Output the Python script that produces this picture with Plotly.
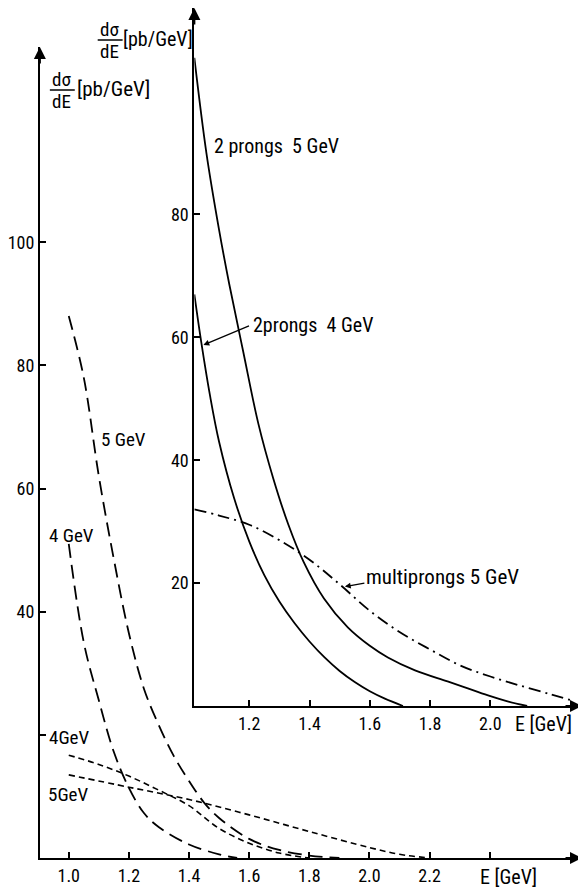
import plotly.graph_objects as go

# ---------------- data ----------------
# outer panel: long-dashed curves
outer_E_5long = [1.00, 1.05, 1.10, 1.15, 1.20, 1.25, 1.30, 1.35, 1.40, 1.45, 1.50, 1.60, 1.70, 1.80, 1.90]
outer_y_5long = [88, 78, 62, 48.5, 36.5, 27.5, 21.5, 16.5, 12.5, 9.0, 6.5, 3.1, 1.3, 0.4, 0]
outer_E_4long = [1.00, 1.05, 1.10, 1.15, 1.20, 1.25, 1.30, 1.40, 1.50, 1.56]
outer_y_4long = [51, 35, 25.6, 17.2, 11.4, 7.3, 5.0, 2.2, 0.6, 0]
# outer panel: short-dashed curves
outer_E_4short = [1.0, 1.1, 1.2, 1.3, 1.4, 1.5, 1.6, 1.7, 1.8]
outer_y_4short = [16.7, 15.2, 13.3, 11.0, 8.5, 4.8, 2.4, 0.8, 0]
outer_E_5short = [1.0, 1.2, 1.4, 1.6, 1.8, 2.0, 2.1, 2.2]
outer_y_5short = [13.5, 11.5, 9.5, 7.0, 4.3, 1.7, 0.6, 0]

# inset panel
inset_E_4 = [1.018, 1.04, 1.07, 1.10, 1.15, 1.20, 1.25, 1.30, 1.35, 1.40, 1.45, 1.50, 1.55, 1.60, 1.65, 1.71]
inset_y_4 = [67, 59.5, 50.5, 43, 33.8, 26.8, 21.3, 17.0, 13.5, 10.5, 7.9, 5.7, 3.9, 2.4, 1.2, 0]
inset_E_5 = [1.018, 1.058, 1.10, 1.134, 1.18, 1.23, 1.28, 1.33, 1.38, 1.448, 1.527, 1.60, 1.66, 1.75, 1.858, 1.93, 2.0, 2.06, 2.122]
inset_y_5 = [105.5, 90, 77.5, 68.6, 57.7, 46, 37, 29.5, 23.5, 17.5, 12.8, 9.8, 7.9, 5.8, 4.0, 2.8, 1.6, 0.7, 0]
inset_E_multi = [1.018, 1.1, 1.2, 1.3, 1.4, 1.5, 1.6, 1.7, 1.8, 1.9, 2.0, 2.1, 2.2, 2.264]
inset_y_multi = [32, 31, 29.5, 27, 23.8, 19.8, 15.5, 12, 9.2, 6.6, 4.8, 3.3, 1.9, 1.0]

# ticks
outer_xticks = [1.0, 1.2, 1.4, 1.6, 1.8, 2.0, 2.2, 2.4]
outer_xticktext = ["1.0", "1.2", "1.4", "1.6", "1.8", "2.0", "2.2", ""]
outer_yticks = [20, 40, 60, 80, 100]
outer_yticktext = ["", "40", "60", "80", "100"]
inset_xticks = [1.2, 1.4, 1.6, 1.8, 2.0]
inset_xticktext = ["1.2", "1.4", "1.6", "1.8", "2.0"]
inset_yticks = [20, 40, 60, 80]
inset_yticktext = ["20", "40", "60", "80"]

# ---------------- layout helpers ----------------
# the page body has an 8px margin; work in window pixels and convert
OFF = 8
W, H = 586 - OFF, 890 - OFF
FONT = "Liberation Sans Narrow, Arial Narrow, Roboto Condensed, Lato, sans-serif"


def px(x):
    return (x - OFF) / W


def py(y):
    return 1 - (y - OFF) / H


OUT_X = [0.904, 2.707]
OUT_Y = [0, 131.7]
IN_X = [1.018, 2.304]
IN_Y = [0, 113.6]

fig = go.Figure()

line_black = dict(color="black", width=1.8)

fig.add_trace(go.Scatter(x=outer_E_5long, y=outer_y_5long, mode="lines", line_shape="spline",
                         line=dict(color="black", width=1.8, dash="14px,7px"), xaxis="x", yaxis="y"))
fig.add_trace(go.Scatter(x=outer_E_4long, y=outer_y_4long, mode="lines", line_shape="spline",
                         line=dict(color="black", width=1.8, dash="14px,7px"), xaxis="x", yaxis="y"))
fig.add_trace(go.Scatter(x=outer_E_4short, y=outer_y_4short, mode="lines", line_shape="spline",
                         line=dict(color="black", width=1.6, dash="6px,4px"), xaxis="x", yaxis="y"))
fig.add_trace(go.Scatter(x=outer_E_5short, y=outer_y_5short, mode="lines", line_shape="spline",
                         line=dict(color="black", width=1.6, dash="6px,4px"), xaxis="x", yaxis="y"))

fig.add_trace(go.Scatter(x=inset_E_4, y=inset_y_4, mode="lines", line_shape="spline",
                         line=line_black, xaxis="x2", yaxis="y2"))
fig.add_trace(go.Scatter(x=inset_E_5, y=inset_y_5, mode="lines", line_shape="spline",
                         line=line_black, xaxis="x2", yaxis="y2"))
fig.add_trace(go.Scatter(x=inset_E_multi, y=inset_y_multi, mode="lines", line_shape="spline",
                         line=dict(color="black", width=1.8, dash="12px,5px,2px,5px"), xaxis="x2", yaxis="y2"))

axis_common = dict(showline=True, linecolor="black", linewidth=2, ticks="inside", ticklen=6,
                   tickwidth=1.5, tickcolor="black", showgrid=False, zeroline=False,
                   tickfont=dict(family=FONT, size=18, color="black"), fixedrange=True)

fig.update_layout(
    width=W, height=H, autosize=False,
    margin=dict(l=0, r=0, t=0, b=0),
    paper_bgcolor="white", plot_bgcolor="rgba(0,0,0,0)",
    showlegend=False,
    xaxis=dict(domain=[px(38), px(582)], range=OUT_X, anchor="y",
               tickmode="array", tickvals=outer_xticks, ticktext=outer_xticktext, **axis_common),
    yaxis=dict(domain=[py(858), py(47)], range=OUT_Y, anchor="x",
               tickmode="array", tickvals=outer_yticks, ticktext=outer_yticktext, **axis_common),
    xaxis2=dict(domain=[px(193), px(582)], range=IN_X, anchor="y2",
                tickmode="array", tickvals=inset_xticks, ticktext=inset_xticktext, **axis_common),
    yaxis2=dict(domain=[py(706), py(8)], range=IN_Y, anchor="x2",
                tickmode="array", tickvals=inset_yticks, ticktext=inset_yticktext, **axis_common),
)

ann = []
# axis arrowheads
arrow = dict(text="", showarrow=True, arrowhead=2, arrowsize=1.2, arrowwidth=2, arrowcolor="black",
             standoff=0, startstandoff=0)
ann.append(dict(x=OUT_X[1], y=0, xref="x", yref="y", ax=-18, ay=0, **arrow))
ann.append(dict(x=OUT_X[0], y=OUT_Y[1], xref="x", yref="y", ax=0, ay=18, **arrow))
ann.append(dict(x=IN_X[1], y=0, xref="x2", yref="y2", ax=-18, ay=0, **arrow))
ann.append(dict(x=IN_X[0], y=IN_Y[1], xref="x2", yref="y2", ax=0, ay=18, **arrow))


def label(text, x, y, size=16, xanchor="center"):
    ann.append(dict(text=text, x=px(x), y=py(y), xref="paper", yref="paper", showarrow=False,
                    xanchor=xanchor, yanchor="middle", font=dict(family=FONT, size=size, color="black")))


# axis titles
label("E [GeV]", 508, 877, 20)
label("E [GeV]", 543, 724, 20)
# outer y title (fraction)
label("dσ", 60, 79, 19)
label("dE", 60, 101, 19)
label("[pb/GeV]", 112, 89, 21)
# inset y title
label("dσ", 108, 29, 19)
label("dE", 108, 51, 19)
label("[pb/GeV]", 157, 39, 20)

# curve labels
label("2 prongs  5 GeV", 275, 146, 20)
label("2prongs  4 GeV", 312, 325, 20)
label("multiprongs 5 GeV", 442, 577, 21)
label("5 GeV", 122, 439, 19)
label("4 GeV", 70, 535, 19)
label("4GeV", 68, 737, 19)
label("5GeV", 67, 794, 19)

# pointer arrows for labels
ann.append(dict(x=1.045, y=58.7, xref="x2", yref="y2", ax=48, ay=-20, text="", showarrow=True,
                arrowhead=2, arrowsize=0.9, arrowwidth=1.3, arrowcolor="black", standoff=1))
ann.append(dict(x=1.514, y=19.4, xref="x2", yref="y2", ax=22, ay=-4, text="", showarrow=True,
                arrowhead=2, arrowsize=0.9, arrowwidth=1.3, arrowcolor="black", standoff=1))

fig.update_layout(annotations=ann)

# fraction bars
shapes = [
    dict(type="line", xref="paper", yref="paper", x0=px(48), x1=px(73), y0=py(90), y1=py(90),
         line=dict(color="black", width=1.5)),
    dict(type="line", xref="paper", yref="paper", x0=px(96), x1=px(121), y0=py(40), y1=py(40),
         line=dict(color="black", width=1.5)),
]
fig.update_layout(shapes=shapes)

fig.write_html("out.html")
